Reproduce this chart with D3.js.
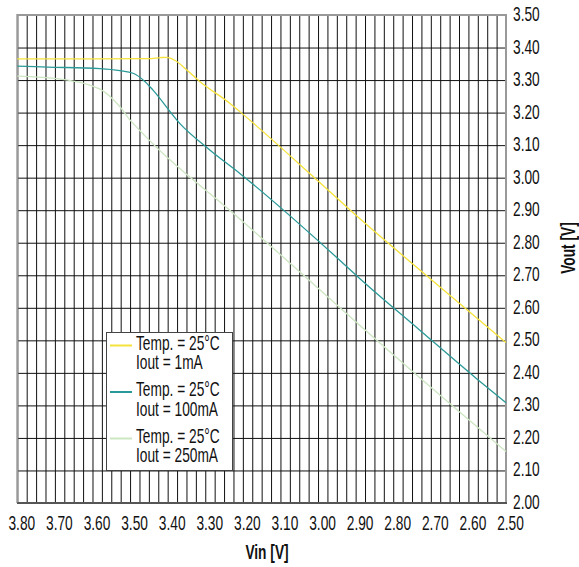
<!DOCTYPE html>
<html>
<head>
<meta charset="utf-8">
<script src="https://cdn.jsdelivr.net/npm/d3@7"></script>
<style>
  body { margin: 0; background: #fff; }
  text { font-family: "Liberation Sans", Arial, sans-serif; fill: #111; }
</style>
</head>
<body>
<div id="viz"></div>
<script>
// values (Vin, Vout)
var seriesNames = ["Temp. = 25°C|Iout = 1mA", "Temp. = 25°C|Iout = 100mA", "Temp. = 25°C|Iout = 250mA"];
var seriesColors = ["#f5e23a", "#2a9a98", "#cde6c2"];

var vin1mA   = [3.80, 3.60, 3.45, 3.42, 3.403, 3.38, 3.35, 3.314, 3.235, 3.208, 3.00, 2.89, 2.70, 2.50];
var vout1mA  = [3.365, 3.365, 3.366, 3.369, 3.370, 3.360, 3.332, 3.295, 3.229, 3.203, 2.99, 2.875, 2.688, 2.493];

var vin100mA  = [3.80, 3.72, 3.58, 3.527, 3.492, 3.46, 3.439, 3.368, 3.288, 3.208, 2.943, 2.89, 2.73, 2.579, 2.50];
var vout100mA = [3.343, 3.340, 3.335, 3.329, 3.321, 3.295, 3.269, 3.167, 3.085, 3.013, 2.747, 2.691, 2.532, 2.383, 2.308];

var vin250mA  = [3.80, 3.686, 3.58, 3.527, 3.50, 3.492, 3.403, 3.337, 3.235, 3.084, 2.89, 2.837, 2.50];
var vout250mA = [3.312, 3.303, 3.272, 3.218, 3.177, 3.167, 3.064, 2.998, 2.900, 2.747, 2.547, 2.493, 2.158];

var xTickLabels = [3.80, 3.70, 3.60, 3.50, 3.40, 3.30, 3.20, 3.10, 3.00, 2.90, 2.80, 2.70, 2.60, 2.50];
var yTickLabels = [2.00, 2.10, 2.20, 2.30, 2.40, 2.50, 2.60, 2.70, 2.80, 2.90, 3.00, 3.10, 3.20, 3.30, 3.40, 3.50];
var xGrid = d3.range(0, 53).map(function(i) { return 3.80 - i * 0.025; });

var W = 579, H = 567;
var pLeft = 17.3, pRight = 506, pTop = 15, pBottom = 503;
var sx = 0.687; // text is drawn narrow like the original

var x = d3.scaleLinear().domain([3.80, 2.50]).range([pLeft, pRight]);
var y = d3.scaleLinear().domain([2.00, 3.50]).range([pBottom, pTop]);

var svg = d3.select("#viz").append("svg").attr("width", W).attr("height", H);

// grid
svg.append("g").attr("transform", "translate(0," + pBottom + ")")
  .call(d3.axisBottom(x).tickValues(xGrid).tickSize(-(pBottom - pTop)).tickFormat(""))
  .call(function(g) {
    g.select(".domain").remove();
    g.selectAll("line").attr("stroke", "#111").attr("stroke-width", 1);
  });
svg.append("g").attr("transform", "translate(" + pLeft + ",0)")
  .call(d3.axisLeft(y).tickValues(yTickLabels).tickSize(-(pRight - pLeft)).tickFormat(""))
  .call(function(g) {
    g.select(".domain").remove();
    g.selectAll("line").attr("stroke", "#111").attr("stroke-width", 1);
  });

// frame
svg.append("path")
  .attr("d", "M" + pLeft + "," + pBottom + "V" + pTop + "H" + pRight + "V" + pBottom)
  .attr("fill", "none").attr("stroke", "#999").attr("stroke-width", 2);
svg.append("line").attr("x1", pLeft).attr("x2", pRight + 1).attr("y1", pBottom).attr("y2", pBottom)
  .attr("stroke", "#555").attr("stroke-width", 2);

// tick labels
svg.append("g").attr("transform", "translate(0," + pBottom + ")")
  .call(d3.axisBottom(x).tickValues(xTickLabels).tickSize(0).tickPadding(0).tickFormat(d3.format(".2f")))
  .call(function(g) {
    g.select(".domain").remove();
    g.selectAll("text").attr("font-size", 20).attr("fill", "#111")
      .attr("font-family", "Liberation Sans, Arial, sans-serif")
      .attr("dy", null).attr("y", 27).attr("x", 4 / sx)
      .attr("transform", "scale(" + sx + ",1)");
  });
svg.append("g").attr("transform", "translate(" + 513 + ",0)")
  .call(d3.axisRight(y).tickValues(yTickLabels).tickSize(0).tickPadding(0).tickFormat(d3.format(".2f")))
  .call(function(g) {
    g.select(".domain").remove();
    g.selectAll("text").attr("font-size", 20).attr("fill", "#111")
      .attr("font-family", "Liberation Sans, Arial, sans-serif")
      .attr("dy", null).attr("y", 5.5).attr("x", 0)
      .attr("text-anchor", "start")
      .attr("transform", "scale(" + sx + ",1)");
  });

// axis titles
svg.append("g").attr("transform", "translate(267,559)")
  .append("text").attr("transform", "scale(" + sx + ",1)")
  .attr("text-anchor", "middle").attr("font-size", 20).attr("font-weight", "bold").text("Vin [V]");
svg.append("g").attr("transform", "translate(575,248) rotate(-90)")
  .append("text").attr("transform", "scale(" + sx + ",1)")
  .attr("text-anchor", "middle").attr("font-size", 20).attr("font-weight", "bold").text("Vout [V]");

// curves
var series = [
  d3.zip(vin1mA, vout1mA),
  d3.zip(vin100mA, vout100mA),
  d3.zip(vin250mA, vout250mA)
];
var line = d3.line().x(function(d) { return x(d[0]); }).y(function(d) { return y(d[1]); })
  .curve(d3.curveMonotoneX);
svg.append("g").selectAll("path").data(series).enter().append("path")
  .attr("d", line).attr("fill", "none")
  .attr("stroke", function(d, i) { return seriesColors[i]; })
  .attr("stroke-width", 1.3);

// legend
var lg = svg.append("g");
lg.append("rect").attr("x", 106.5).attr("y", 332.5).attr("width", 126).attr("height", 138)
  .attr("fill", "#fff").attr("stroke", "#444").attr("stroke-width", 1);
seriesNames.forEach(function(name, i) {
  var yy = 349.5 + i * 46.5;
  lg.append("line").attr("x1", 110).attr("x2", 132)
    .attr("y1", yy - 4).attr("y2", yy - 4)
    .attr("stroke", seriesColors[i]).attr("stroke-width", 2);
  name.split("|").forEach(function(t, j) {
    lg.append("g").attr("transform", "translate(136," + (yy + j * 19.5) + ")")
      .append("text").attr("transform", "scale(" + sx + ",1)")
      .attr("font-size", 20).text(t);
  });
});
</script>
</body>
</html>
